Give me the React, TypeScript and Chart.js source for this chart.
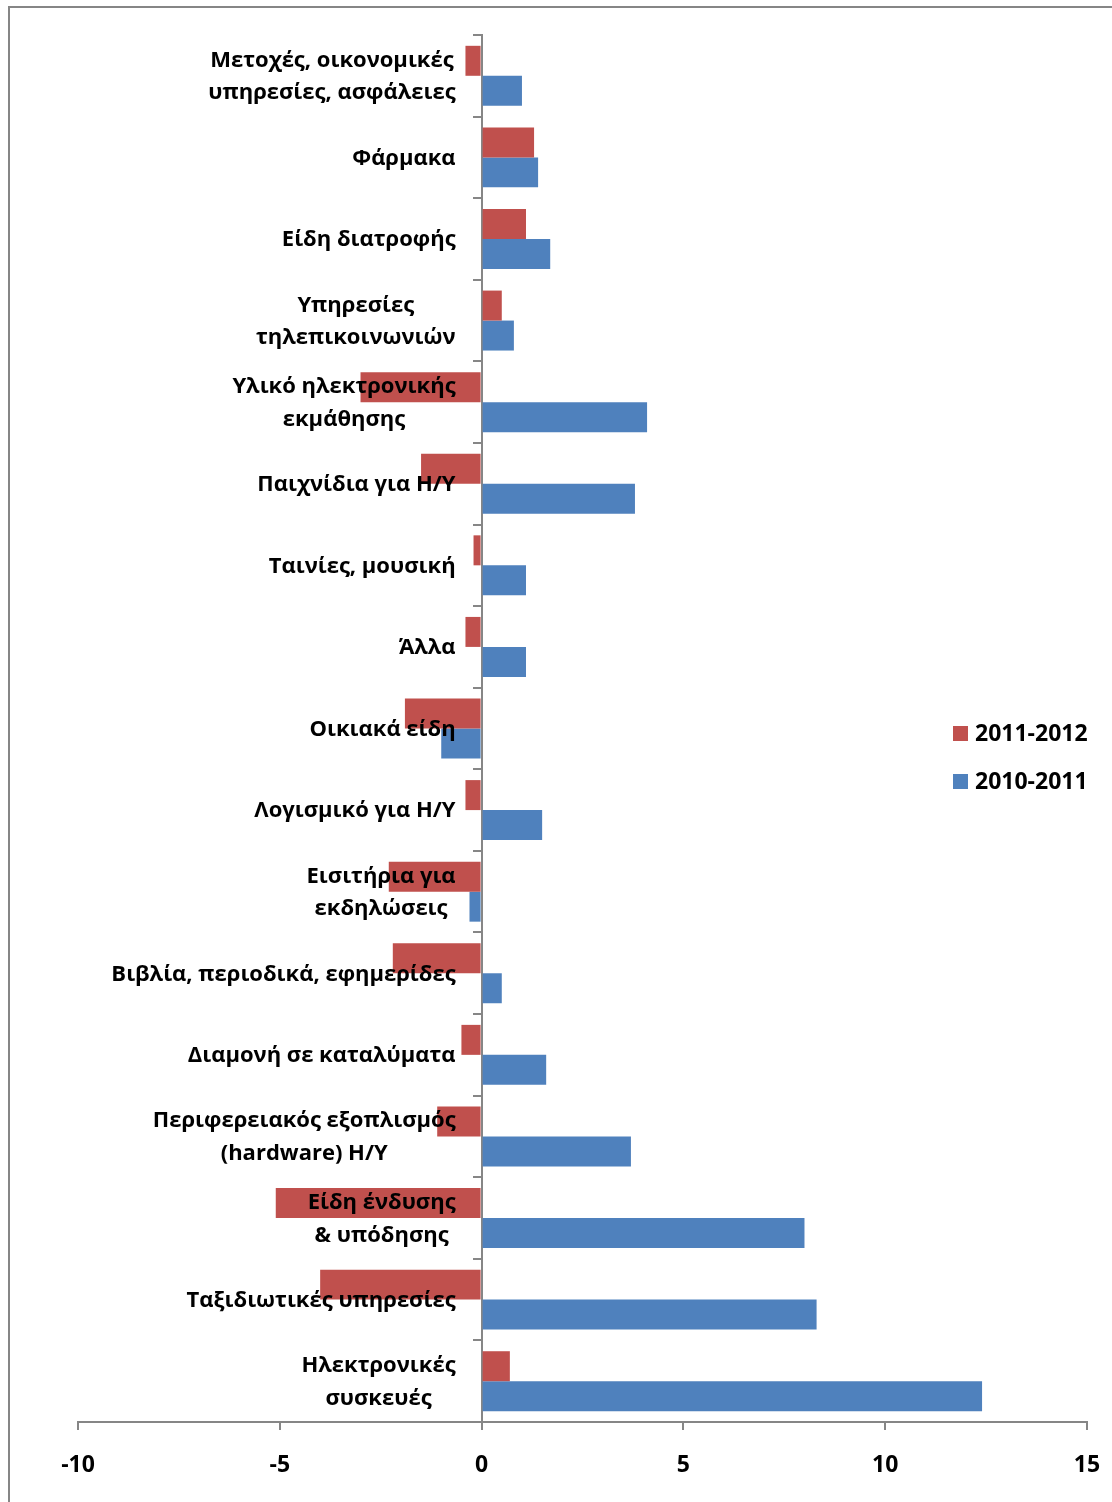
import { useEffect, useRef } from "react";
import { Chart, registerables } from "chart.js";

Chart.register(...registerables);

// Product categories, top to bottom (multi-line labels as arrays)
const categories: (string | string[])[] = [
  ["Μετοχές, οικονομικές", "υπηρεσίες, ασφάλειες"],
  "Φάρμακα",
  "Είδη διατροφής",
  ["Υπηρεσίες", "τηλεπικοινωνιών"],
  ["Υλικό ηλεκτρονικής", "εκμάθησης"],
  "Παιχνίδια για Η/Υ",
  "Ταινίες, μουσική",
  "Άλλα",
  "Οικιακά είδη",
  "Λογισμικό για Η/Υ",
  ["Εισιτήρια για", "εκδηλώσεις"],
  "Βιβλία, περιοδικά, εφημερίδες",
  "Διαμονή σε καταλύματα",
  ["Περιφερειακός εξοπλισμός", "(hardware) Η/Υ"],
  ["Είδη ένδυσης", "& υπόδησης"],
  "Ταξιδιωτικές υπηρεσίες",
  ["Ηλεκτρονικές", "συσκευές"],
];

const change2011to2012 = [
  -0.4, 1.3, 1.1, 0.5, -3.0, -1.5, -0.2, -0.4, -1.9, -0.4, -2.3, -2.2, -0.5, -1.1, -5.1, -4.0, 0.7,
];

const change2010to2011 = [
  1.0, 1.4, 1.7, 0.8, 4.1, 3.8, 1.1, 1.1, -1.0, 1.5, -0.3, 0.5, 1.6, 3.7, 8.0, 8.3, 12.4,
];

const seriesNames = ["2011-2012", "2010-2011"];
const seriesColors = ["#C0504D", "#4F81BD"];

const xTicks = [-10, -5, 0, 5, 10, 15];

const FONT = "'Open Sans', 'Noto Sans', 'DejaVu Sans', sans-serif";
const AXIS_GRAY = "#868686";
const LABEL_SIZE = 22;
const LABEL_LINE_GAP = 32.5;

// Category names drawn just left of the zero line, over the bars
const categoryLabels = {
  id: "categoryLabels",
  afterDatasetsDraw(chart: any) {
    const { ctx, scales } = chart;
    const right = scales.x.getPixelForValue(0) - 26;
    ctx.save();
    ctx.font = `bold ${LABEL_SIZE}px ${FONT}`;
    ctx.fillStyle = "#000";
    ctx.textAlign = "center";
    ctx.textBaseline = "middle";
    (chart.data.labels as (string | string[])[]).forEach((label, i) => {
      const lines = Array.isArray(label) ? label : [label];
      const w = Math.max(...lines.map((l) => ctx.measureText(l).width));
      const cx = right - w / 2;
      const cy = scales.y.getPixelForValue(i) + 1;
      lines.forEach((line, j) => {
        ctx.fillText(line, cx, cy + (j - (lines.length - 1) / 2) * LABEL_LINE_GAP);
      });
    });
    ctx.restore();
  },
};

// Series key placed inside the plot area on the right
const seriesKey = {
  id: "seriesKey",
  afterDraw(chart: any) {
    const { ctx, chartArea } = chart;
    const left = chartArea.right - 134;
    const top = (chartArea.top + chartArea.bottom) / 2 + 5;
    ctx.save();
    ctx.font = `bold 23px ${FONT}`;
    ctx.textAlign = "left";
    ctx.textBaseline = "middle";
    chart.data.datasets.forEach((ds: any, i: number) => {
      const cy = top + i * 48;
      ctx.fillStyle = ds.backgroundColor;
      ctx.fillRect(left, cy - 7.5, 15, 15);
      ctx.fillStyle = "#000";
      ctx.fillText(ds.label, left + 22, cy + 1);
    });
    ctx.restore();
  },
};

export default function App() {
  const ref = useRef<HTMLCanvasElement>(null);

  useEffect(() => {
    const chart = new Chart(ref.current!, {
      type: "bar",
      data: {
        labels: categories,
        datasets: [
          {
            label: seriesNames[0],
            data: change2011to2012,
            backgroundColor: seriesColors[0],
            borderWidth: 0,
            barPercentage: 1,
            categoryPercentage: 0.735,
          },
          {
            label: seriesNames[1],
            data: change2010to2011,
            backgroundColor: seriesColors[1],
            borderWidth: 0,
            barPercentage: 1,
            categoryPercentage: 0.735,
          },
        ],
      },
      options: {
        indexAxis: "y",
        responsive: false,
        maintainAspectRatio: false,
        animation: false,
        layout: { padding: { top: 27, left: 68, right: 25, bottom: 1 } },
        plugins: {
          legend: { display: false },
          tooltip: { enabled: false },
        },
        scales: {
          x: {
            type: "linear",
            min: xTicks[0],
            max: xTicks[xTicks.length - 1],
            afterBuildTicks: (scale: any) => {
              scale.ticks = xTicks.map((v) => ({ value: v }));
            },
            ticks: {
              color: "#000",
              padding: 0,
              maxRotation: 0,
              font: { family: FONT, size: 23, weight: "bold", lineHeight: "71px" },
            },
            grid: {
              drawOnChartArea: false,
              drawTicks: true,
              tickLength: 8,
              color: AXIS_GRAY,
              lineWidth: 2,
            },
            border: { display: true, color: AXIS_GRAY, width: 2 },
          },
          y: {
            type: "category",
            position: { x: 0 } as any,
            offset: true,
            z: 1,
            ticks: { display: false },
            grid: {
              offset: true,
              drawOnChartArea: false,
              drawTicks: true,
              tickLength: 8,
              color: AXIS_GRAY,
              lineWidth: 2,
            },
            border: { display: true, color: AXIS_GRAY, width: 2 },
          },
        },
      },
      plugins: [categoryLabels, seriesKey],
    } as any);
    return () => chart.destroy();
  }, []);

  return (
    <div
      style={{
        position: "absolute",
        left: 8,
        top: 6,
        width: 1102,
        height: 1494,
        borderLeft: `2px solid ${AXIS_GRAY}`,
        borderTop: `2px solid ${AXIS_GRAY}`,
      }}
    >
      <canvas ref={ref} width={1102} height={1494} style={{ display: "block" }} />
    </div>
  );
}
